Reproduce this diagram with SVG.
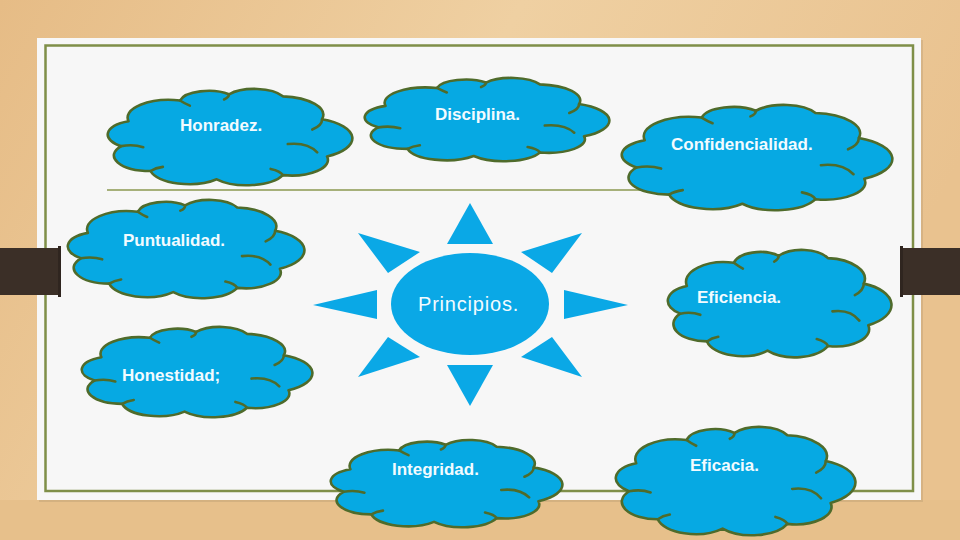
<svg xmlns="http://www.w3.org/2000/svg" xmlns:xlink="http://www.w3.org/1999/xlink" width="960" height="540" viewBox="0 0 960 540">
<defs>
<linearGradient id="wood" x1="0" y1="0" x2="1" y2="0.3">
<stop offset="0" stop-color="#e6bc86"/>
<stop offset="0.5" stop-color="#efd0a2"/>
<stop offset="1" stop-color="#e9c28f"/>
</linearGradient>
<path id="cloud" vector-effect="non-scaling-stroke" d="M6,60 A14,14 0 0 1 9,36 A17,17 0 0 1 30,16 A12,12 0 0 1 50,10 A13,13 0 0 1 72,12 A18,18 0 0 1 88,34 A20,20 0 0 1 90,70 A15,15 0 0 1 72,88 A16,16 0 0 1 45,92 A16,16 0 0 1 18,84 A15,15 0 0 1 6,60 Z"/>
<path id="crease" vector-effect="non-scaling-stroke" d="M6,60 Q11,58 15,61 M88,34 Q88,40 84,44 M74,58 Q82,56 86,66 M72,88 Q71,84 67,82 M30,16 Q32,19 34,21 M50,10 Q50,13 48,15 M18,84 Q20,81 23,80"/>
</defs>
<style>
.cl{fill:#06a9e3;stroke:#4f6b2b;stroke-width:2.6;stroke-linejoin:round}
.cr{fill:none;stroke:#4f6b2b;stroke-width:2.6;stroke-linecap:round}
.t{font-family:"Liberation Sans",Arial,sans-serif;font-size:17px;font-weight:bold;fill:#f2fbff}
.sun{fill:#0aa8e6}
</style>
<rect width="960" height="540" fill="url(#wood)"/>
<rect x="0" y="500" width="960" height="40" fill="#e7c08b"/>
<rect x="39" y="40" width="884" height="462" fill="#000" opacity="0.08"/>
<rect x="37" y="38" width="884" height="462" fill="#f7f7f7"/>
<rect x="45.5" y="45.5" width="867.5" height="445.5" fill="none" stroke="#7f8f48" stroke-width="2.5"/>
<g id="brackets">
<rect x="0" y="248" width="61" height="47" fill="#3b2f27"/>
<rect x="58" y="246" width="3" height="51" fill="#2f251f"/>
<rect x="900" y="248" width="60" height="47" fill="#3b2f27"/>
<rect x="900" y="246" width="3" height="51" fill="#2f251f"/>
</g>
<g id="connectors">
<line x1="107" y1="190" x2="850" y2="190" stroke="#8b9850" stroke-width="1.6"/>
</g>
<g id="honradez">
<g transform="translate(106.5,83.9) scale(2.45,1.037)"><use xlink:href="#cloud" class="cl"/><use xlink:href="#crease" class="cr"/></g>
<text class="t" x="180" y="131">Honradez.</text>
</g>
<g id="disciplina">
<g transform="translate(363.5,73.6) scale(2.45,0.896)"><use xlink:href="#cloud" class="cl"/><use xlink:href="#crease" class="cr"/></g>
<text class="t" x="435" y="120">Disciplina.</text>
</g>
<g id="confidencialidad">
<g transform="translate(620.4,99.4) scale(2.71,1.134)"><use xlink:href="#cloud" class="cl"/><use xlink:href="#crease" class="cr"/></g>
<text class="t" x="671" y="150">Confidencialidad.</text>
</g>
<g id="puntualidad">
<g transform="translate(66.6,194.8) scale(2.37,1.058)"><use xlink:href="#cloud" class="cl"/><use xlink:href="#crease" class="cr"/></g>
<text class="t" x="123" y="246">Puntualidad.</text>
</g>
<g id="eficiencia">
<g transform="translate(666.7,244.3) scale(2.24,1.156)"><use xlink:href="#cloud" class="cl"/><use xlink:href="#crease" class="cr"/></g>
<text class="t" x="697" y="303">Eficiencia.</text>
</g>
<g id="honestidad">
<g transform="translate(80.6,322.2) scale(2.31,0.972)"><use xlink:href="#cloud" class="cl"/><use xlink:href="#crease" class="cr"/></g>
<text class="t" x="122" y="381">Honestidad;</text>
</g>
<g id="integridad">
<g transform="translate(329.6,435.4) scale(2.32,0.94)"><use xlink:href="#cloud" class="cl"/><use xlink:href="#crease" class="cr"/></g>
<text class="t" x="392" y="475">Integridad.</text>
</g>
<g id="eficacia">
<g transform="translate(614.6,421.3) scale(2.40,1.166)"><use xlink:href="#cloud" class="cl"/><use xlink:href="#crease" class="cr"/></g>
<text class="t" x="690" y="471">Eficacia.</text>
</g>
<g id="principios">
<polygon class="sun" points="470,203 447,244 493,244"/>
<polygon class="sun" points="470,406 447,365 493,365"/>
<polygon class="sun" points="313,305 377,290 377,319"/>
<polygon class="sun" points="628,305 564,290 564,319"/>
<polygon class="sun" points="358,233 420,252 388,273"/>
<polygon class="sun" points="582,233 521,252 552,273"/>
<polygon class="sun" points="358,377 420,357 388,337"/>
<polygon class="sun" points="582,377 521,357 552,337"/>
<ellipse class="sun" cx="470" cy="304" rx="79" ry="51"/>
<text x="418" y="311" font-family="'Liberation Sans',Arial,sans-serif" font-size="20" letter-spacing="0.8" fill="#f2fbff">Principios.</text>
</g>
</svg>
